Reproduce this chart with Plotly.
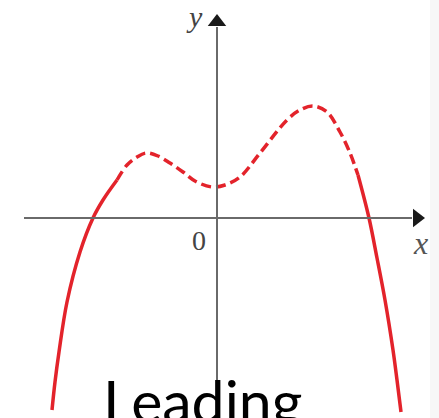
import plotly.graph_objects as go

# Curve samples (data units: origin at the axes' crossing)
left_x = [-3.30, -3.24, -3.16, -3.00, -2.74, -2.48, -2.28, -2.00]
left_y = [-3.84, -3.28, -2.68, -1.68, -0.68, 0.00, 0.36, 0.76]

mid_x = [-2.00, -1.80, -1.60, -1.42, -1.18, -0.94, -0.68, -0.44, -0.10, 0.16, 0.46, 0.86,
         1.40, 1.66, 1.92, 2.20, 2.46, 2.66, 2.82]
mid_y = [0.76, 1.06, 1.22, 1.30, 1.24, 1.10, 0.92, 0.74, 0.62, 0.66, 0.82, 1.30,
         1.96, 2.16, 2.24, 2.12, 1.72, 1.30, 0.86]

right_x = [2.82, 3.04, 3.20, 3.36, 3.52, 3.60, 3.68]
right_y = [0.86, 0.00, -0.80, -1.64, -2.64, -3.24, -3.88]

axis_x_range = [-3.86, 4.20]
axis_y_range = [-4.0, 4.12]

RED = "#e3232b"
AXIS = "#6a6a6a"

fig = go.Figure()

# faint strip at right edge
fig.add_shape(type="rect", xref="paper", yref="paper", x0=430/439, x1=1, y0=0, y1=1,
              fillcolor="#f7f7f7", line=dict(width=0), layer="below")
# axes lines
fig.add_shape(type="line", x0=axis_x_range[0], x1=axis_x_range[1] - 0.3, y0=0, y1=0,
              line=dict(color=AXIS, width=2))
fig.add_shape(type="line", x0=0, x1=0, y0=axis_y_range[0], y1=axis_y_range[1] - 0.3,
              line=dict(color=AXIS, width=2))

for xs, ys, dash in [(left_x, left_y, "solid"), (mid_x, mid_y, "10px,5px"), (right_x, right_y, "solid")]:
    fig.add_trace(go.Scatter(x=xs, y=ys, mode="lines",
                             line=dict(color=RED, width=3.5, dash=dash, shape="spline", smoothing=1.0),
                             hoverinfo="skip", showlegend=False))

# arrowheads
fig.add_trace(go.Scatter(x=[axis_x_range[1] - 0.2], y=[0], mode="markers",
                         marker=dict(symbol="triangle-right", size=16, color="#1a1a1a"),
                         hoverinfo="skip", showlegend=False))
fig.add_trace(go.Scatter(x=[0], y=[axis_y_range[1] - 0.2], mode="markers",
                         marker=dict(symbol="triangle-up", size=16, color="#1a1a1a"),
                         hoverinfo="skip", showlegend=False))

serif = "Liberation Serif"
fig.add_annotation(x=-0.46, y=4.04, text="<i>y</i>", showarrow=False,
                   font=dict(family=serif, size=30, color="#444"))
fig.add_annotation(x=4.06, y=-0.50, text="<i>x</i>", showarrow=False,
                   font=dict(family=serif, size=32, color="#555"))
fig.add_annotation(x=-0.36, y=-0.44, text="0", showarrow=False,
                   font=dict(family=serif, size=28, color="#444"))

fig.add_annotation(xref="paper", yref="paper", x=(105 + 300) / 2 / 439, y=0,
                   yanchor="top", yshift=55, text="Leading", showarrow=False,
                   font=dict(family="Lato", size=59, color="#000"))

fig.update_layout(
    width=439, height=418,
    margin=dict(l=0, r=0, t=0, b=0),
    paper_bgcolor="white", plot_bgcolor="white",
    hovermode=False,
    xaxis=dict(range=[-217/50, (439-217)/50], visible=False, fixedrange=True),
    yaxis=dict(range=[(218-418)/50, 218/50], visible=False, fixedrange=True),
)

fig.write_html("out.html", config={"displayModeBar": False},
               post_script="document.body.style.margin='0';")
